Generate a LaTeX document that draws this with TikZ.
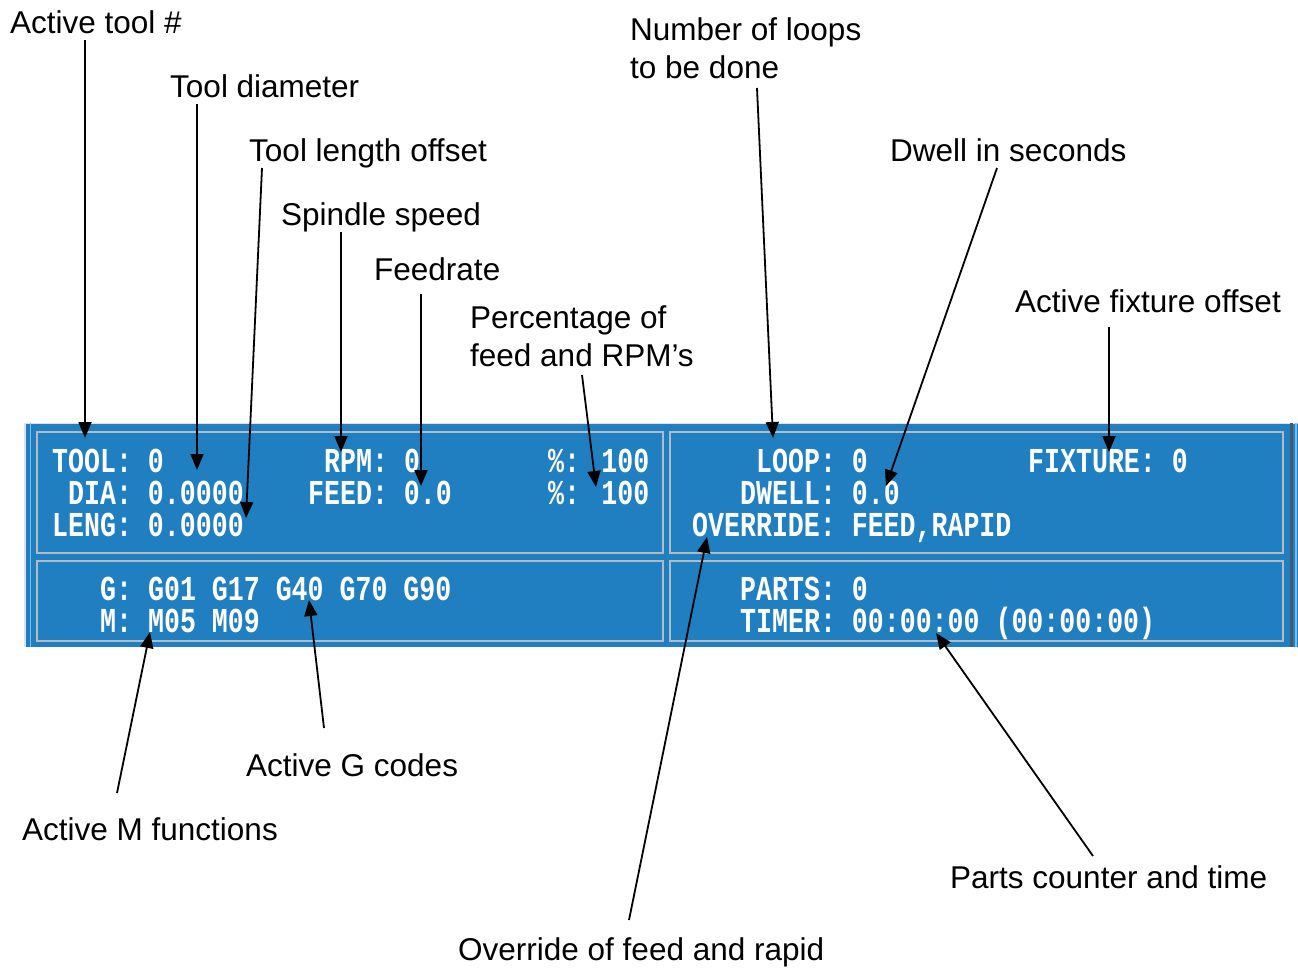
\documentclass[tikz,border=0pt]{standalone}
\usepackage{fontspec}
\setmainfont{Liberation Sans}
\newfontfamily\crtfont[FakeStretch=0.76]{Liberation Mono}
\usetikzlibrary{arrows.meta}
\definecolor{panelblue}{RGB}{32,127,192}
\definecolor{framegray}{RGB}{178,186,196}
\definecolor{edgelav}{RGB}{226,222,250}
\definecolor{edgeblue}{RGB}{120,190,240}
\definecolor{edgedark}{RGB}{70,90,110}
\tikzset{
  lbl/.style={anchor=base west,inner sep=0pt,align=left,font=\fontsize{31.5}{37.5}\selectfont},
  crt/.style={anchor=base west,inner sep=0pt,text=white,font=\crtfont\bfseries\fontsize{35}{35}\selectfont},
  pointer/.style={line width=1.8pt,-{Triangle[length=16pt,width=13pt]}},
  frame/.style={draw=framegray,line width=2.5pt}
}
\begin{document}
\begin{tikzpicture}[x=1pt,y=-1pt]
\useasboundingbox (0,0) rectangle (1298,969);
\fill[panelblue] (24,423) rectangle (1298,647);
\draw[edgelav,line width=1pt] (24,423.5) -- (1298,423.5);
\draw[edgelav,line width=2pt] (25,423) -- (25,647);
\draw[edgeblue,line width=1.5pt] (30.5,423) -- (30.5,647);
\draw[edgedark,line width=3pt] (1291,423) -- (1291,647);
\draw[edgeblue,line width=1.5pt] (1296,423) -- (1296,647);
\draw[frame] (37,432) rectangle (663,553);
\draw[frame] (670,432) rectangle (1283,553);
\draw[frame] (37,561) rectangle (663,641);
\draw[frame] (670,561) rectangle (1283,641);
\foreach \c/\r/\t [count=\i] in {0/472/TOOL: 0, 17/472/RPM: 0, 31/472/\%: 100, 44/472/LOOP: 0, 61/472/FIXTURE: 0,
    1/504/DIA: 0.0000, 16/504/FEED: 0.0, 31/504/\%: 100, 43/504/DWELL: 0.0,
    0/536/LENG: 0.0000, 40/536/{OVERRIDE: FEED,RAPID},
    3/600/G: G01 G17 G40 G70 G90, 43/600/PARTS: 0,
    3/632/M: M05 M09, 43/632/TIMER: 00:00:00 (00:00:00)}
  \node[crt] (f\i) at (52+16*\c,\r) {\t};
\node[lbl] (lTool) at (10,33) {Active tool \#};
\node[lbl] (lDia) at (170,97) {Tool diameter};
\node[lbl] (lLeng) at (249,161) {Tool length offset};
\node[lbl] (lRpm) at (281,225) {Spindle speed};
\node[lbl] (lFeed) at (374,280) {Feedrate};
\node[lbl] (lPct) at (470,366) {Percentage of\\feed and RPM’s};
\node[lbl] (lLoop) at (630,78) {Number of loops\\to be done};
\node[lbl] (lDwell) at (890,161) {Dwell in seconds};
\node[lbl] (lFix) at (1015,312) {Active fixture offset};
\node[lbl] (lG) at (246,776) {Active G codes};
\node[lbl] (lM) at (22,840) {Active M functions};
\node[lbl] (lOvr) at (458,960) {Override of feed and rapid};
\node[lbl] (lParts) at (950,888) {Parts counter and time};
\coordinate (tTool) at (85,438);
\coordinate (tDia) at (197,470);
\coordinate (tLeng) at (246,518);
\coordinate (tRpm) at (341,452);
\coordinate (tFeed) at (421,486);
\coordinate (tPct) at (596,487);
\coordinate (tLoop) at (773,438);
\coordinate (tDwell) at (886,486);
\coordinate (tFix) at (1109,452);
\coordinate (tG) at (309,600);
\coordinate (tM) at (150,632);
\coordinate (tOvr) at (707,537);
\coordinate (tParts) at (936,633);
\draw[pointer] ([shift={(75,7)}]lTool.base west) -- (tTool);
\draw[pointer] ([shift={(27,7)}]lDia.base west) -- (tDia);
\draw[pointer] ([shift={(13,7)}]lLeng.base west) -- (tLeng);
\draw[pointer] ([shift={(60,7)}]lRpm.base west) -- (tRpm);
\draw[pointer] ([shift={(47,14)}]lFeed.base west) -- (tFeed);
\draw[pointer] ([shift={(112,9)}]lPct.base west) -- (tPct);
\draw[pointer] ([shift={(127,10)}]lLoop.base west) -- (tLoop);
\draw[pointer] ([shift={(107,7)}]lDwell.base west) -- (tDwell);
\draw[pointer] ([shift={(94,15)}]lFix.base west) -- (tFix);
\draw[pointer] ([shift={(78,-48)}]lG.base west) -- (tG);
\draw[pointer] ([shift={(95,-47)}]lM.base west) -- (tM);
\draw[pointer] ([shift={(171,-40)}]lOvr.base west) -- (tOvr);
\draw[pointer] ([shift={(143,-32)}]lParts.base west) -- (tParts);
\end{tikzpicture}
\end{document}
